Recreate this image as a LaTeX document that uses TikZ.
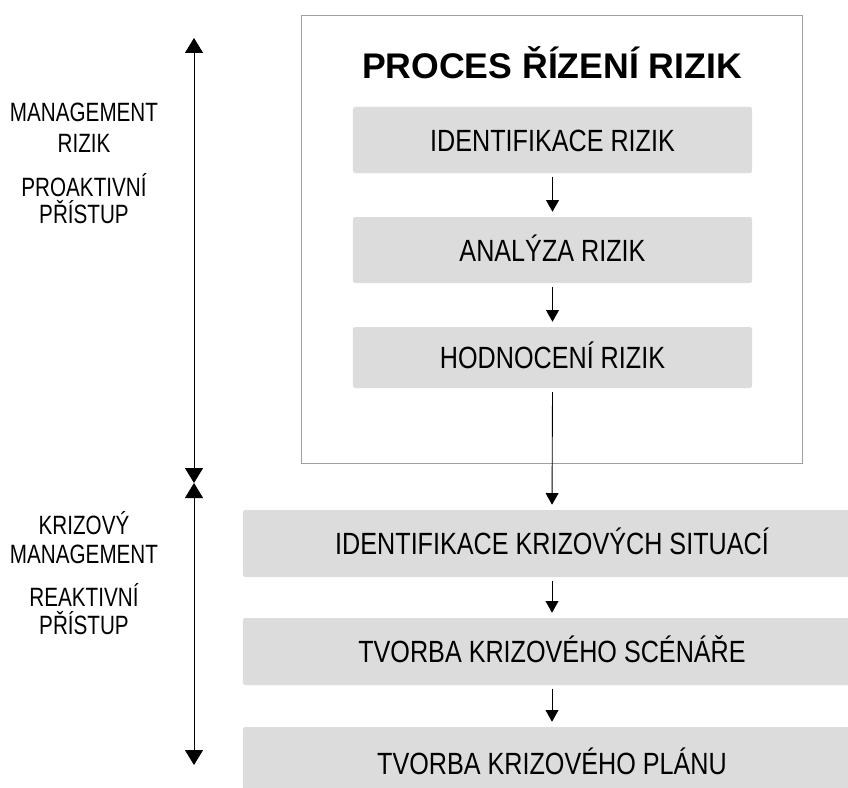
\documentclass[tikz,border=0pt]{standalone}
\usepackage{fontspec}
\setmainfont{Liberation Sans}
\newfontfamily\narrowf[FakeStretch=0.82]{Liberation Sans}
\newfontfamily\leftf[FakeStretch=0.78]{Liberation Sans}
\usetikzlibrary{arrows.meta}
\definecolor{boxgray}{HTML}{DCDCDC}
\definecolor{framegray}{HTML}{A0A0A0}
\tikzset{
  stepbox/.style={fill=boxgray, rounded corners=2pt, inner sep=0pt,
    font=\narrowf\fontsize{26.2}{30}\selectfont, text height=18.8pt, text depth=0pt},
  upbox/.style={stepbox, minimum width=11.97cm},
  lowbox/.style={stepbox, minimum width=18.54cm},
  sidelabel/.style={font=\leftf\fontsize{22.6}{26}\selectfont, text height=16.2pt, text depth=0pt, inner sep=0pt},
  smallarr/.style={draw=black, line width=0.75pt, -{Triangle[width=11pt,length=10pt]},
    shorten <=3.4pt, shorten >=4.3pt},
  bigarr/.style={draw=black, line width=0.75pt, {Triangle[width=15.4pt,length=12.8pt]}-{Triangle[width=15.4pt,length=12.8pt]}}
}
\begin{document}
\begin{tikzpicture}[x=0.03cm, y=-0.03cm]
\clip (0,0) rectangle (848,787);
\fill[white] (0,0) rectangle (848,787);
% frame
\node[draw=framegray, line width=0.7pt, minimum width=15.03cm, minimum height=13.44cm, inner sep=0pt] (frame) at (551.5,239) {};
\node[font=\bfseries\fontsize{30.4}{34}\selectfont, text height=21.8pt, text depth=0pt, inner sep=0pt] (title) at (552,66) {PROCES ŘÍZENÍ RIZIK};
% upper boxes
\node[upbox, minimum height=1.98cm] (b1) at (552.5,140) {IDENTIFIKACE RIZIK};
\node[upbox, minimum height=1.98cm] (b2) at (552.5,250) {ANALÝZA RIZIK};
\node[upbox, minimum height=1.83cm] (b3) at (552.5,357.5) {HODNOCENÍ RIZIK};
% lower boxes
\node[lowbox, minimum height=2.01cm] (k1) at (552,543.5) {IDENTIFIKACE KRIZOVÝCH SITUACÍ};
\node[lowbox, minimum height=2.01cm] (k2) at (552,651.5) {TVORBA KRIZOVÉHO SCÉNÁŘE};
\node[lowbox, minimum height=2.16cm] (k3) at (552,763) {TVORBA KRIZOVÉHO PLÁNU};
% arrows
\draw[smallarr] (b1.south) -- (b2.north);
\draw[smallarr] (b2.south) -- (b3.north);
\draw[smallarr] (b3.south) -- (k1.north);
\draw[smallarr] (k1.south) -- (k2.north);
\draw[smallarr] (k2.south) -- (k3.north);
% left axis
\coordinate (ltop) at (194,38);
\coordinate (lmid) at (194,483);
\coordinate (lbot) at (194,765);
\draw[bigarr] (ltop) -- (lmid);
\draw[bigarr] (lmid) -- (lbot);
% side labels
\node[sidelabel] (l1) at (84,112) {MANAGEMENT};
\node[sidelabel] (l2) at (84,143) {RIZIK};
\node[sidelabel] (l3) at (84,187) {PROAKTIVNÍ};
\node[sidelabel] (l4) at (84,214) {PŘÍSTUP};
\node[sidelabel] (l5) at (84,525) {KRIZOVÝ};
\node[sidelabel] (l6) at (84,554) {MANAGEMENT};
\node[sidelabel] (l7) at (84,597) {REAKTIVNÍ};
\node[sidelabel] (l8) at (84,625) {PŘÍSTUP};
\end{tikzpicture}
\end{document}
